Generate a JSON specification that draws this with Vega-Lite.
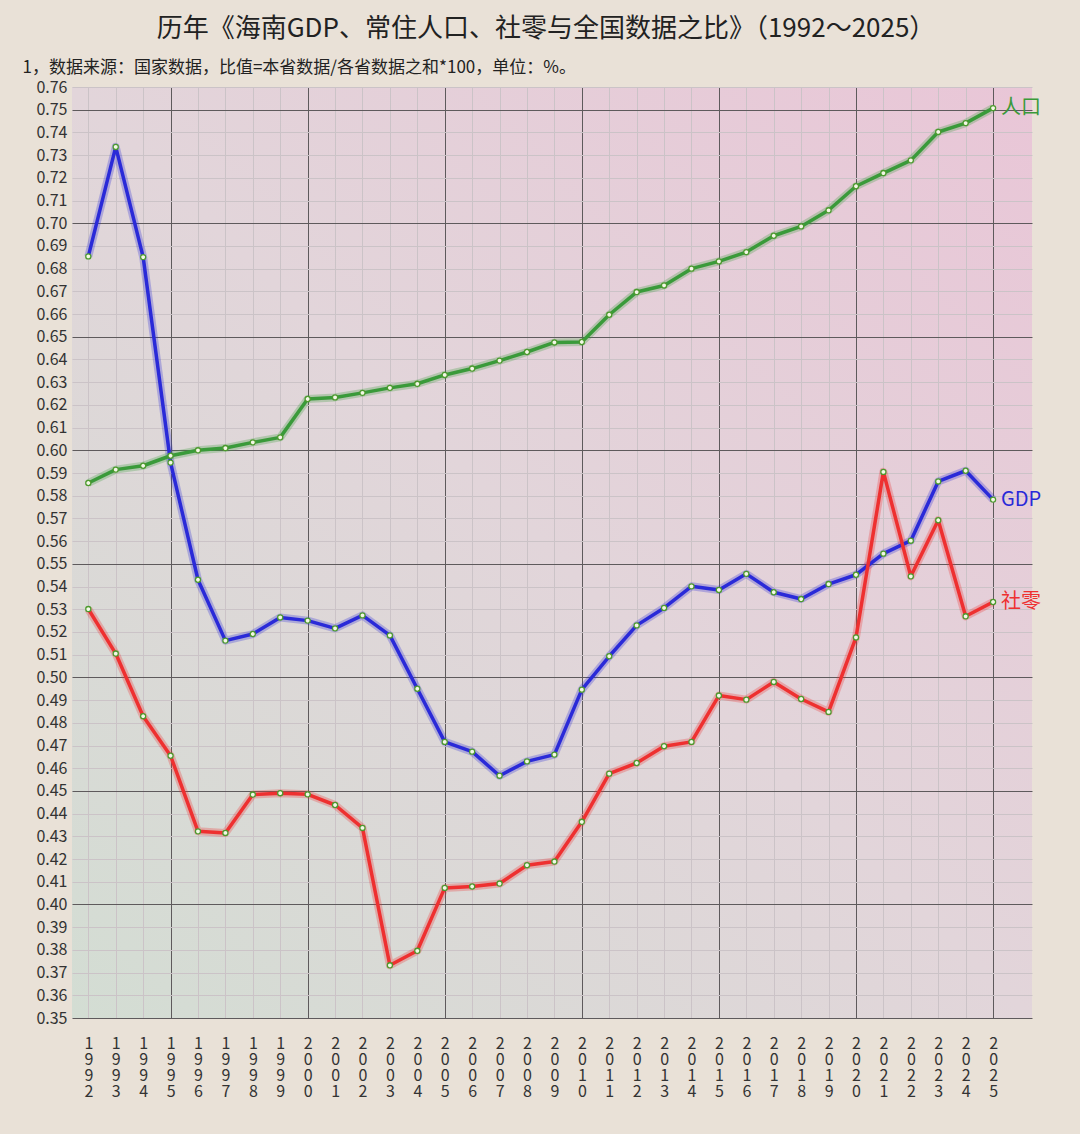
{
  "$schema": "https://vega.github.io/schema/vega-lite/v6.json",
  "width": 960,
  "height": 931,
  "autosize": "none",
  "padding": {"left": 72, "top": 87, "right": 48, "bottom": 116},
  "background": "#e9e1d7",
  "title": {
    "text": "历年《海南GDP、常住人口、社零与全国数据之比》（1992～2025）",
    "anchor": "middle",
    "frame": "group",
    "fontSize": 26,
    "font": "Noto Sans CJK SC",
    "fontWeight": "normal",
    "color": "#222222",
    "dx": -6,
    "offset": 16
  },
  "config": {
    "view": {
      "stroke": null,
      "fill": {
        "gradient": "linear",
        "x1": 1, "y1": 0, "x2": 0, "y2": 1,
        "stops": [
          {"offset": 0, "color": "#e9c6d7"},
          {"offset": 0.5, "color": "#e2d5da"},
          {"offset": 1, "color": "#d3ddd3"}
        ]
      }
    },
    "font": "Noto Sans CJK SC"
  },
  "data": {
    "values": [
      {"year": 1992, "series": "GDP", "value": 0.6854},
      {"year": 1993, "series": "GDP", "value": 0.7336},
      {"year": 1994, "series": "GDP", "value": 0.6851},
      {"year": 1995, "series": "GDP", "value": 0.5946},
      {"year": 1996, "series": "GDP", "value": 0.543},
      {"year": 1997, "series": "GDP", "value": 0.5162},
      {"year": 1998, "series": "GDP", "value": 0.5191},
      {"year": 1999, "series": "GDP", "value": 0.5264},
      {"year": 2000, "series": "GDP", "value": 0.525},
      {"year": 2001, "series": "GDP", "value": 0.5216},
      {"year": 2002, "series": "GDP", "value": 0.5273},
      {"year": 2003, "series": "GDP", "value": 0.5185},
      {"year": 2004, "series": "GDP", "value": 0.495},
      {"year": 2005, "series": "GDP", "value": 0.4716},
      {"year": 2006, "series": "GDP", "value": 0.4673},
      {"year": 2007, "series": "GDP", "value": 0.4567},
      {"year": 2008, "series": "GDP", "value": 0.463},
      {"year": 2009, "series": "GDP", "value": 0.466},
      {"year": 2010, "series": "GDP", "value": 0.4946},
      {"year": 2011, "series": "GDP", "value": 0.5093},
      {"year": 2012, "series": "GDP", "value": 0.5229},
      {"year": 2013, "series": "GDP", "value": 0.5306},
      {"year": 2014, "series": "GDP", "value": 0.5401},
      {"year": 2015, "series": "GDP", "value": 0.5385},
      {"year": 2016, "series": "GDP", "value": 0.5456},
      {"year": 2017, "series": "GDP", "value": 0.5375},
      {"year": 2018, "series": "GDP", "value": 0.5345},
      {"year": 2019, "series": "GDP", "value": 0.5411},
      {"year": 2020, "series": "GDP", "value": 0.5452},
      {"year": 2021, "series": "GDP", "value": 0.5545},
      {"year": 2022, "series": "GDP", "value": 0.5602},
      {"year": 2023, "series": "GDP", "value": 0.5863},
      {"year": 2024, "series": "GDP", "value": 0.591},
      {"year": 2025, "series": "GDP", "value": 0.5783},
      {"year": 1992, "series": "人口", "value": 0.5856},
      {"year": 1993, "series": "人口", "value": 0.5915},
      {"year": 1994, "series": "人口", "value": 0.5932},
      {"year": 1995, "series": "人口", "value": 0.5976},
      {"year": 1996, "series": "人口", "value": 0.6},
      {"year": 1997, "series": "人口", "value": 0.601},
      {"year": 1998, "series": "人口", "value": 0.6035},
      {"year": 1999, "series": "人口", "value": 0.6057},
      {"year": 2000, "series": "人口", "value": 0.6226},
      {"year": 2001, "series": "人口", "value": 0.6233},
      {"year": 2002, "series": "人口", "value": 0.6253},
      {"year": 2003, "series": "人口", "value": 0.6275},
      {"year": 2004, "series": "人口", "value": 0.6293},
      {"year": 2005, "series": "人口", "value": 0.6332},
      {"year": 2006, "series": "人口", "value": 0.636},
      {"year": 2007, "series": "人口", "value": 0.6395},
      {"year": 2008, "series": "人口", "value": 0.6433},
      {"year": 2009, "series": "人口", "value": 0.6475},
      {"year": 2010, "series": "人口", "value": 0.6477},
      {"year": 2011, "series": "人口", "value": 0.6597},
      {"year": 2012, "series": "人口", "value": 0.6697},
      {"year": 2013, "series": "人口", "value": 0.6726},
      {"year": 2014, "series": "人口", "value": 0.68},
      {"year": 2015, "series": "人口", "value": 0.6832},
      {"year": 2016, "series": "人口", "value": 0.6873},
      {"year": 2017, "series": "人口", "value": 0.6945},
      {"year": 2018, "series": "人口", "value": 0.6986},
      {"year": 2019, "series": "人口", "value": 0.7057},
      {"year": 2020, "series": "人口", "value": 0.7163},
      {"year": 2021, "series": "人口", "value": 0.7221},
      {"year": 2022, "series": "人口", "value": 0.7277},
      {"year": 2023, "series": "人口", "value": 0.7402},
      {"year": 2024, "series": "人口", "value": 0.7441},
      {"year": 2025, "series": "人口", "value": 0.7507},
      {"year": 1992, "series": "社零", "value": 0.5301},
      {"year": 1993, "series": "社零", "value": 0.5105},
      {"year": 1994, "series": "社零", "value": 0.4829},
      {"year": 1995, "series": "社零", "value": 0.4655},
      {"year": 1996, "series": "社零", "value": 0.4322},
      {"year": 1997, "series": "社零", "value": 0.4315},
      {"year": 1998, "series": "社零", "value": 0.4484},
      {"year": 1999, "series": "社零", "value": 0.449},
      {"year": 2000, "series": "社零", "value": 0.4485},
      {"year": 2001, "series": "社零", "value": 0.4438},
      {"year": 2002, "series": "社零", "value": 0.4337},
      {"year": 2003, "series": "社零", "value": 0.3732},
      {"year": 2004, "series": "社零", "value": 0.3796},
      {"year": 2005, "series": "社零", "value": 0.4073},
      {"year": 2006, "series": "社零", "value": 0.4079},
      {"year": 2007, "series": "社零", "value": 0.4092},
      {"year": 2008, "series": "社零", "value": 0.4173},
      {"year": 2009, "series": "社零", "value": 0.4189},
      {"year": 2010, "series": "社零", "value": 0.4364},
      {"year": 2011, "series": "社零", "value": 0.4576},
      {"year": 2012, "series": "社零", "value": 0.4623},
      {"year": 2013, "series": "社零", "value": 0.4697},
      {"year": 2014, "series": "社零", "value": 0.4716},
      {"year": 2015, "series": "社零", "value": 0.492},
      {"year": 2016, "series": "社零", "value": 0.4902},
      {"year": 2017, "series": "社零", "value": 0.498},
      {"year": 2018, "series": "社零", "value": 0.4905},
      {"year": 2019, "series": "社零", "value": 0.4848},
      {"year": 2020, "series": "社零", "value": 0.5176},
      {"year": 2021, "series": "社零", "value": 0.5905},
      {"year": 2022, "series": "社零", "value": 0.5445},
      {"year": 2023, "series": "社零", "value": 0.5692},
      {"year": 2024, "series": "社零", "value": 0.5269},
      {"year": 2025, "series": "社零", "value": 0.5332}
    ]
  },
  "encoding": {
    "x": {
      "field": "year",
      "type": "quantitative",
      "scale": {"domain": [1991.405, 2026.42], "nice": false, "zero": false},
      "axis": {
        "title": null,
        "values": [1992,1993,1994,1995,1996,1997,1998,1999,2000,2001,2002,2003,2004,2005,2006,2007,2008,2009,2010,2011,2012,2013,2014,2015,2016,2017,2018,2019,2020,2021,2022,2023,2024,2025],
        "format": "d",
        "labelExpr": "split(datum.label, '')",
        "labelFontSize": 16,
        "labelLineHeight": 16,
        "labelColor": "#333333",
        "labelPadding": 17,
        "labelAngle": 0,
        "labelBaseline": "top",
        "labelOverlap": false,
        "labelFlush": false,
        "ticks": false,
        "domain": false,
        "grid": true,
        "gridWidth": 1,
        "gridColor": {"condition": {"test": "datum.value % 5 === 0", "value": "#5e5a5c"}, "value": "#cbc3c7"}
      }
    },
    "y": {
      "field": "value",
      "type": "quantitative",
      "scale": {"domain": [0.35, 0.76], "nice": false, "zero": false},
      "axis": {
        "title": "1，数据来源：国家数据，比值=本省数据/各省数据之和*100，单位：%。",
        "titleAngle": 0,
        "titleAlign": "left",
        "titleBaseline": "middle",
        "titleX": -50,
        "titleY": -20,
        "titleFontSize": 17,
        "titleFontWeight": "normal",
        "titleColor": "#222222",
        "values": [0.35,0.36,0.37,0.38,0.39,0.40,0.41,0.42,0.43,0.44,0.45,0.46,0.47,0.48,0.49,0.50,0.51,0.52,0.53,0.54,0.55,0.56,0.57,0.58,0.59,0.60,0.61,0.62,0.63,0.64,0.65,0.66,0.67,0.68,0.69,0.70,0.71,0.72,0.73,0.74,0.75,0.76],
        "format": ".2f",
        "labelFontSize": 16,
        "labelColor": "#333333",
        "labelPadding": 5,
        "labelOverlap": false,
        "labelFlush": false,
        "ticks": false,
        "domain": false,
        "grid": true,
        "gridWidth": 1,
        "gridColor": {"condition": {"test": "round(datum.value * 100) % 5 === 0", "value": "#5e5a5c"}, "value": "#cbc3c7"}
      }
    }
  },
  "layer": [
    {
      "mark": {"type": "line", "strokeWidth": 8, "opacity": 0.28, "strokeJoin": "round"},
      "encoding": {
        "color": {"field": "series", "type": "nominal", "scale": {"domain": ["GDP", "人口", "社零"], "range": ["#2a2ad8", "#3a9a3a", "#ee3030"]}, "legend": null}
      }
    },
    {
      "mark": {"type": "line", "strokeWidth": 3.5, "strokeJoin": "round"},
      "encoding": {
        "color": {"field": "series", "type": "nominal", "scale": {"domain": ["GDP", "人口", "社零"], "range": ["#1c1cc6", "#2b852b", "#dd2020"]}, "legend": null}
      }
    },
    {
      "mark": {"type": "point", "shape": "circle", "filled": false, "fill": "#f3f7e6", "fillOpacity": 1, "stroke": "#4c9a2e", "strokeWidth": 1.3, "size": 26, "opacity": 1}
    },
    {
      "transform": [{"filter": "datum.year === 2025"}],
      "mark": {"type": "text", "align": "left", "baseline": "middle", "dx": 8, "fontSize": 20, "clip": false},
      "encoding": {
        "text": {"field": "series", "type": "nominal"},
        "color": {"field": "series", "type": "nominal", "scale": {"domain": ["GDP", "人口", "社零"], "range": ["#1c1cc6", "#2b852b", "#dd2020"]}, "legend": null}
      }
    }
  ]
}
